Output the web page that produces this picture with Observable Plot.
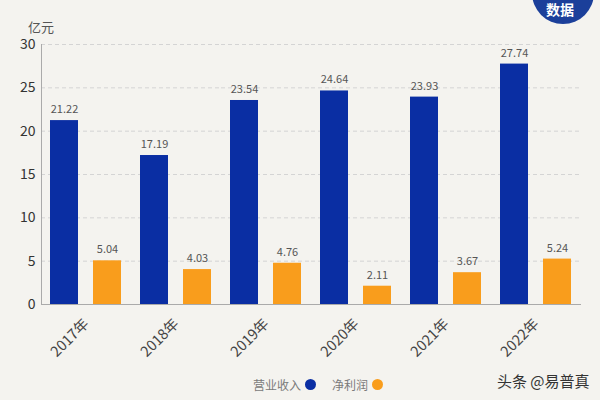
<!DOCTYPE html>
<html>
<head>
<meta charset="utf-8">
<script src="https://cdn.jsdelivr.net/npm/d3@7"></script>
<script src="https://cdn.jsdelivr.net/npm/@observablehq/plot@0.6"></script>
<style>
  html, body { margin: 0; padding: 0; background: #f4f3ef; }
  #wrap { position: relative; width: 600px; height: 400px; overflow: hidden; background: #f4f3ef;
          font-family: "Noto Sans CJK SC", "Noto Sans", sans-serif; }
  #chart { position: absolute; left: 0; top: 0; }
  .abs { position: absolute; white-space: nowrap; }
  #unit { left: 28px; top: 17px; font-size: 13px; color: #555; }
  #legend { left: 253px; top: 376px; font-size: 12px; color: #7a7a7a; display: flex; align-items: center; }
  #legend .dot { display: inline-block; width: 11px; height: 11px; border-radius: 50%; margin: 0 16px 0 4px; }
  #brand { left: 497px; top: 370px; font-size: 15px; color: #333; }
  #badge { left: 532px; top: -38px; width: 62px; height: 62px; border-radius: 50%; background: #1b3f9a; }
  #badgeText { left: 546px; top: 1px; font-size: 14px; line-height: 16px; font-weight: bold; color: #fff; }
</style>
</head>
<body>
<div id="wrap">
  <div id="chart"></div>
  <div id="unit" class="abs">亿元</div>
  <div id="badge" class="abs"></div>
  <div id="badgeText" class="abs">数据</div>
  <div id="legend" class="abs"></div>
  <div id="brand" class="abs">头条 @易普真</div>
</div>
<script>
const years = ["2017年", "2018年", "2019年", "2020年", "2021年", "2022年"];
const seriesNames = ["营业收入", "净利润"];
const revenue = [21.22, 17.19, 23.54, 24.64, 23.93, 27.74];
const profit = [5.04, 4.03, 4.76, 2.11, 3.67, 5.24];
const yTicks = [0, 5, 10, 15, 20, 25, 30];
const colors = ["#0a2ea3", "#f99d1c"];

const data = years.flatMap((y, i) => [
  {year: y, series: seriesNames[0], value: revenue[i]},
  {year: y, series: seriesNames[1], value: profit[i]}
]);

const chart = Plot.plot({
  width: 600,
  height: 360,
  marginTop: 44,
  marginBottom: 56,
  marginLeft: 39,
  marginRight: 18,
  style: {background: "transparent", fontFamily: "'Noto Sans CJK SC', 'Noto Sans', sans-serif"},
  fx: {domain: years, padding: 0, label: null, axis: null},
  x: {domain: seriesNames, paddingInner: 0.34, paddingOuter: 0.2, axis: null},
  y: {domain: [0, 30], label: null},
  color: {domain: seriesNames, range: colors},
  marks: [
    Plot.gridY(yTicks.filter(d => d > 0), {stroke: "#d4d4d4", strokeOpacity: 1, strokeDasharray: "4,3"}),
    Plot.barY(data, {fx: "year", x: "series", y: "value", fill: "series"}),
    Plot.text(data, {fx: "year", x: "series", y: "value", text: d => d.value.toFixed(2), dy: -11, fontSize: 11, fill: "#555"}),
    Plot.ruleY([0], {stroke: "#aaa"}),
    Plot.frame({anchor: "left", stroke: "#aaa", facetAnchor: "left"}),
    Plot.axisY(yTicks, {tickSize: 0, tickPadding: 6, fontSize: 14, fill: "#333", label: null, facetAnchor: "left"}),
    Plot.axisFx({anchor: "bottom", tickRotate: -45, tickSize: 0, tickPadding: 17, fontSize: 14.5, fill: "#444", label: null})
  ]
});
document.getElementById("chart").appendChild(chart);

const legend = document.getElementById("legend");
seriesNames.forEach((name, i) => {
  const t = document.createElement("span");
  t.textContent = name;
  const d = document.createElement("span");
  d.className = "dot";
  d.style.background = colors[i];
  legend.appendChild(t);
  legend.appendChild(d);
});
</script>
</body>
</html>
